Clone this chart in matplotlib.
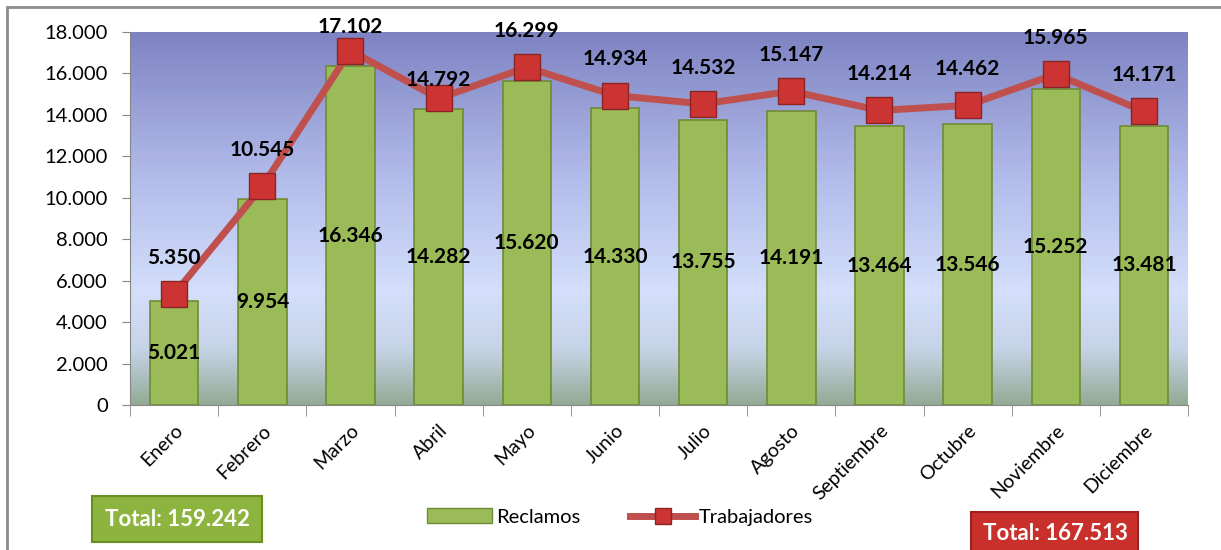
import matplotlib
matplotlib.use("Agg")
import matplotlib.pyplot as plt
import numpy as np
from matplotlib.colors import LinearSegmentedColormap
from matplotlib.patches import Rectangle, Patch
from matplotlib.lines import Line2D
from matplotlib.ticker import FuncFormatter, FixedLocator

plt.rcParams['font.family'] = ['Lato', 'DejaVu Sans']

# datos
meses = ['Enero', 'Febrero', 'Marzo', 'Abril', 'Mayo', 'Junio', 'Julio',
         'Agosto', 'Septiembre', 'Octubre', 'Noviembre', 'Diciembre']
reclamos = [5021, 9954, 16346, 14282, 15620, 14330, 13755, 14191, 13464, 13546, 15252, 13481]
trabajadores = [5350, 10545, 17102, 14792, 16299, 14934, 14532, 15147, 14214, 14462, 15965, 14171]
total_reclamos = 'Total: 159.242'
total_trabajadores = 'Total: 167.513'

# desplazamiento vertical (pt) de las etiquetas de la linea
label_dy = [26, 26, 17, 13, 26, 26, 26, 26, 26, 26, 26, 26]


def miles(v, pos=None):
    return f'{int(v):,}'.replace(',', '.')


fig = plt.figure(figsize=(12.21, 5.5), dpi=100)
ax = fig.add_axes([0.1065, 0.2636, 0.8665, 0.6782])

# fondo degradado del area de trazado
fondo = LinearSegmentedColormap.from_list('fondo', [
    (0.0, '#93ab95'), (0.15, '#c6d4e8'), (0.3, '#d3dffb'),
    (0.6, '#b3bdeb'), (1.0, '#7d83c2')])
grad = np.linspace(0, 1, 256).reshape(-1, 1)
ax.imshow(grad, cmap=fondo, origin='lower', aspect='auto',
          extent=[0, 1, 0, 1], transform=ax.transAxes, zorder=0)

x = np.arange(len(meses))
barras = ax.bar(x, reclamos, width=0.55, color='#9bbb59', edgecolor='#6f8c35',
                linewidth=1.2, zorder=2)
ax.plot(x, trabajadores, color='#c0504d', linewidth=5, marker='s',
        markersize=19, markerfacecolor='#cc3333', markeredgecolor='#8c2424',
        markeredgewidth=1, zorder=3)

for xi, v in zip(x, reclamos):
    ax.text(xi, v / 2, miles(v), ha='center', va='center', fontsize=15,
            fontweight='bold', color='black', zorder=4)
for xi, v, dy in zip(x, trabajadores, label_dy):
    ax.annotate(miles(v), (xi, v), xytext=(0, dy), textcoords='offset points',
                ha='center', va='center', fontsize=15, fontweight='bold',
                color='black', zorder=4, annotation_clip=False)

ax.set_xlim(-0.5, len(meses) - 0.5)
ax.set_ylim(0, 18000)
ax.set_yticks(range(0, 18001, 2000))
ax.yaxis.set_major_formatter(FuncFormatter(miles))
ax.tick_params(axis='y', labelsize=14.5, length=6, color='#868686', pad=10)

ax.set_xticks(x)
ax.set_xticklabels(meses, rotation=45, ha='right', rotation_mode='anchor',
                   fontsize=14)
ax.tick_params(axis='x', which='major', length=0, pad=12)
ax.xaxis.set_minor_locator(FixedLocator(np.arange(-0.5, len(meses), 1)))
ax.tick_params(axis='x', which='minor', length=8, color='#868686')

for s in ['top', 'right']:
    ax.spines[s].set_visible(False)
for s in ['left', 'bottom']:
    ax.spines[s].set_color('#868686')

# leyenda
h1 = Patch(facecolor='#9bbb59', edgecolor='#6f8c35')
h2 = Line2D([], [], color='#c0504d', linewidth=5, marker='s', markersize=12,
            markerfacecolor='#cc3333', markeredgecolor='#8c2424')
fig.legend([h1, h2], ['Reclamos', 'Trabajadores'], loc='center',
           bbox_to_anchor=(0.508, 0.06), ncol=2, frameon=False, fontsize=14.5,
           handlelength=3.2, handletextpad=0.2, columnspacing=2.5)

# cuadros de totales
fig.text(0.145, 0.056, total_reclamos, ha='center', va='center', fontsize=16,
         fontweight='bold', color='white',
         bbox=dict(boxstyle='square,pad=0.55', facecolor='#8db43e',
                   edgecolor='#6b8e23', linewidth=1.5))
fig.text(0.864, 0.03, total_trabajadores, ha='center', va='center', fontsize=16,
         fontweight='bold', color='white',
         bbox=dict(boxstyle='square,pad=0.5', facecolor='#c9302c',
                   edgecolor='#9c2020', linewidth=1.5))

# marco del grafico
fig.patches.append(Rectangle((7 / 1221, -0.05), 1.1, 1.05 - 7 / 550,
                             transform=fig.transFigure, fill=False,
                             edgecolor='#8c8c8c', linewidth=2, zorder=0))

fig.savefig('out.png', dpi=100)
